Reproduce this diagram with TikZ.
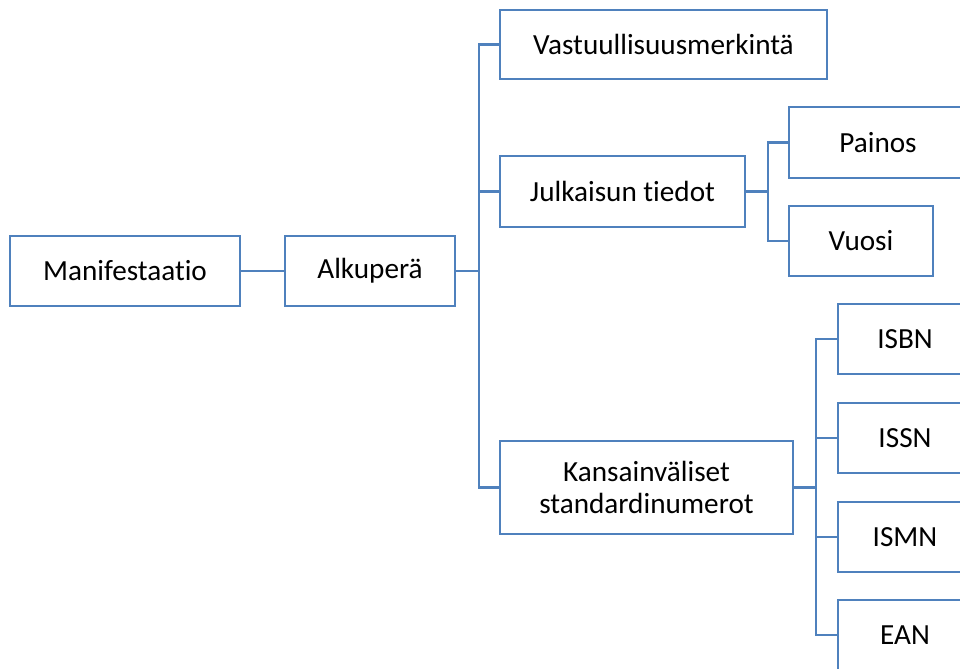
\documentclass[tikz,border=0pt]{standalone}
\usepackage{fontspec}
\setmainfont{Carlito}[Ligatures=NoCommon]
\definecolor{boxblue}{RGB}{79,129,189}
\newcommand{\placebox}[6]{%
\node[itembox, minimum width=(#4-#2)*0.75pt, minimum height=(#5-#3)*0.75pt] (#1) at ({(#2+#4)/2},{(#3+#5)/2}) {#6};
}

\begin{document}
\begin{tikzpicture}[x=0.75pt, y=-0.75pt,
  itembox/.style={draw=boxblue, line width=1.8pt, fill=white, text=black, align=center, inner sep=0pt, font=\fontsize{21.9}{24}\selectfont},
  link/.style={draw=boxblue, line width=1.8pt}]

\useasboundingbox (0,0) rectangle (960,668);
\clip (0,0) rectangle (960,668);

\placebox{mani}{10}{236}{240}{306}{Manifestaatio}
\placebox{alku}{285}{236}{455}{306}{Alkuperä}

\placebox{vastuu}{500}{10}{827}{79}{Vastuullisuusmerkintä}
\placebox{julk}{500}{156}{745}{227}{Julkaisun tiedot}
\placebox{kans}{500}{441}{793}{534}{Kansainväliset\\standardinumerot}

\placebox{painos}{789}{107}{967}{178}{Painos}
\placebox{vuosi}{789}{206}{933}{276}{Vuosi}

\placebox{isbn}{838}{304}{972}{374}{ISBN}
\placebox{issn}{838}{403}{972}{473}{ISSN}
\placebox{ismn}{838}{502}{972}{572}{ISMN}
\placebox{ean}{838}{600}{972}{670}{EAN}

\draw[link] (mani) -- (alku);

\foreach \c in {vastuu,julk,kans}
{
\draw[link] (alku.east) -- ++(23,0) |- (\c.west);
}

\foreach \c in {painos,vuosi}
{
\draw[link] (julk.east) -- ++(22,0) |- (\c.west);
}

\foreach \c in {isbn,issn,ismn,ean}
{
\draw[link] (kans.east) -- ++(22,0) |- (\c.west);
}

\end{tikzpicture}
\end{document}
